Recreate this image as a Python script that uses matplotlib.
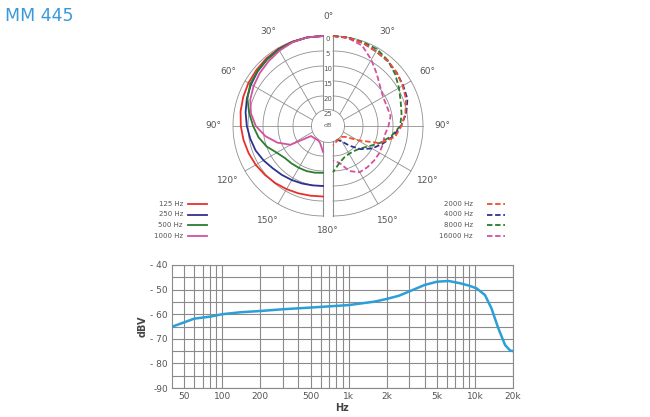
import numpy as np
import matplotlib
matplotlib.use("Agg")
import matplotlib.pyplot as plt
from matplotlib.lines import Line2D

# polar data: attenuation in dB, every 10 degrees from 0 to 180
angles = np.arange(0, 181, 10)
att_125 = [0, 0, 0.1, 0.3, 0.6, 1.0, 1.3, 1.7, 2.1, 2.6, 3.1, 3.6, 4.1, 4.7, 5.2, 5.7, 6.1, 6.4, 6.5]
att_250 = [0, 0, 0.2, 0.5, 1.0, 1.6, 2.3, 3.0, 3.8, 4.6, 5.4, 6.1, 7.1, 8.1, 8.7, 9.2, 9.6, 9.9, 10.0]
att_500 = [0, 0, 0.2, 0.6, 1.0, 1.5, 2.0, 3.2, 5.0, 6.7, 8.2, 10.0, 12.2, 13.4, 13.7, 13.9, 14.0, 14.2, 14.4]
att_1000 = [0, 0, 0.3, 1.0, 1.8, 2.5, 3.3, 4.2, 5.6, 7.6, 10.5, 13.8, 17.5, 24.8, 25.0, 25.0, 25.0, 24.3, 21.4]
att_2000 = [0, 0.1, 0.6, 1.3, 1.6, 2.3, 3.2, 4.1, 5.5, 7.2, 9.0, 13.3, 20.5, 24.3, 25.3, 25.4, 25.2, 24.5, 23.5]
att_4000 = [0, 0.1, 0.6, 1.3, 1.7, 2.3, 3.0, 3.6, 5.2, 7.3, 9.8, 12.5, 15.0, 18.0, 21.4, 24.0, 25.0, 25.0, 24.7]
att_8000 = [0, 0.1, 0.3, 0.5, 1.5, 3.0, 4.6, 6.0, 6.8, 7.6, 10.3, 13.4, 16.4, 18.3, 19.1, 19.3, 18.9, 17.5, 14.6]
att_16000 = [0, 0.3, 1.5, 4.5, 7.3, 9.5, 10.7, 10.9, 10.5, 11.5, 12.5, 12.3, 12.1, 12.1, 12.1, 12.2, 14.0, 17.5, 18.5]

left_curves = [("125 Hz", att_125, "#e8302a"), ("250 Hz", att_250, "#2e3192"),
               ("500 Hz", att_500, "#2a7d2e"), ("1000 Hz", att_1000, "#d3519f")]
right_curves = [("2000 Hz", att_2000, "#f0502a"), ("4000 Hz", att_4000, "#2e3192"),
                ("8000 Hz", att_8000, "#2a7d2e"), ("16000 Hz", att_16000, "#d3519f")]

ring_db = [0, 5, 10, 15, 20, 25]
spoke_deg = [30, 60, 90, 120, 150]

# frequency response
freq = [40, 50, 60, 80, 100, 140, 200, 300, 500, 1000, 1600, 2000, 2500, 3200, 4000,
        5000, 6200, 7600, 9000, 10300, 12000, 13500, 15300, 17300, 19000, 20000]
dbv = [-65.1, -63.3, -61.8, -61.0, -60.0, -59.2, -58.7, -58.0, -57.3, -56.3, -54.9, -53.8,
       -52.5, -50.2, -48.1, -46.8, -46.5, -47.4, -48.4, -49.5, -52.2, -57.6, -65.7, -72.5,
       -74.8, -75.0]
xticks = [50, 100, 200, 500, 1000, 2000, 5000, 10000, 20000]
xtick_labels = ["50", "100", "200", "500", "1k", "2k", "5k", "10k", "20k"]
yticks = [-90, -80, -70, -60, -50, -40]
ytick_labels = ["-90", "- 80", "- 70", "- 60", "- 50", "- 40"]

W, H = 650, 417
fig = plt.figure(figsize=(W / 100, H / 100), dpi=100)

fig.text(5 / W, 1 - 16 / H, "MM 445", color="#3a9ad9", fontsize=12.5, va="center")

# ---- polar part, drawn in a plain axes (1 unit = 3 px) ----
axp = fig.add_axes([195 / W, 172 / H, 266 / W, 245 / H])
axp.set_xlim(-44.33, 44.33)
axp.set_ylim(-39.67, 42)
axp.axis("off")

R = 30.0
gap = 5 / 3.0
r_in = 5.5
gcol = "#8f8f8f"
tcol = "#555555"


def to_xy(ang, att, side):
    th = np.radians(np.asarray(ang, dtype=float))
    r = R - np.asarray(att, dtype=float)
    return side * (gap + r * np.sin(th)), r * np.cos(th)


th = np.linspace(0, 180, 200)
for side in (-1, 1):
    for db in ring_db[:-1]:
        x, y = to_xy(th, np.full_like(th, db), side)
        axp.plot(x, y, color=gcol, lw=0.6, zorder=1)
    for a in spoke_deg:
        s = np.sin(np.radians(a))
        r0 = -gap * s + np.sqrt(gap ** 2 * s ** 2 - gap ** 2 + r_in ** 2)
        x, y = to_xy([a, a], [R - r0, 0], side)
        axp.plot(x, y, color=gcol, lw=0.6, zorder=1)
    yv = np.sqrt(r_in ** 2 - gap ** 2)
    axp.plot([side * gap, side * gap], [yv, R], color=gcol, lw=0.8, zorder=1)
    axp.plot([side * gap, side * gap], [-yv, -R], color=gcol, lw=0.8, zorder=1)
    for a in spoke_deg:
        x, y = to_xy(a, R - 36.5, side)
        axp.text(x, y, "%d°" % a, fontsize=6.5, color=tcol, ha="center", va="center")

tt = np.linspace(0, 2 * np.pi, 200)
axp.plot(r_in * np.cos(tt), r_in * np.sin(tt), color=gcol, lw=0.6, zorder=1)
axp.text(0, 0, "dB", fontsize=4.5, color=tcol, ha="center", va="center")
for db in ring_db:
    axp.text(0, R - db - 1.1, str(db), fontsize=5, color=tcol, ha="center", va="center")
axp.text(0, 36.5, "0°", fontsize=6.5, color=tcol, ha="center", va="center")
axp.text(0, -35, "180°", fontsize=6.5, color=tcol, ha="center", va="center")

for name, att, col in left_curves:
    x, y = to_xy(angles, att, -1)
    axp.plot(x, y, color=col, lw=1.3, zorder=3)
# draw 2000 Hz last so it sits on top, as in the original
for name, att, col in right_curves[::-1]:
    x, y = to_xy(angles, att, 1)
    axp.plot(x, y, color=col, lw=1.3, ls=(0, (3, 1.5)), zorder=3)

# legends
leg_y = [204, 214.5, 225, 235.5]
for (name, att, col), yy in zip(left_curves, leg_y):
    fig.text(183 / W, 1 - yy / H, name, fontsize=5, color=tcol, ha="right", va="center")
    fig.add_artist(Line2D([188 / W, 207 / W], [1 - yy / H] * 2, color=col, lw=1.3,
                          transform=fig.transFigure))
for (name, att, col), yy in zip(right_curves, leg_y):
    fig.text(473 / W, 1 - yy / H, name, fontsize=5, color=tcol, ha="right", va="center")
    fig.add_artist(Line2D([487 / W, 505 / W], [1 - yy / H] * 2, color=col, lw=1.3,
                          ls=(0, (3, 1.5)), transform=fig.transFigure))

# ---- frequency response ----
ax = fig.add_axes([172 / W, 29 / H, 341 / W, 123 / H])
ax.set_xscale("log")
ax.set_xlim(40, 20000)
ax.set_ylim(-90, -40)
minor_x = [60, 70, 80, 90, 300, 400, 600, 700, 800, 900, 3000, 4000, 6000, 7000, 8000, 9000]
ax.set_xticks(xticks)
ax.set_xticklabels(xtick_labels)
ax.set_xticks(minor_x, minor=True)
ax.set_xticklabels([], minor=True)
ax.set_yticks(yticks)
ax.set_yticklabels(ytick_labels)
ax.set_yticks([-85, -75, -65, -55, -45], minor=True)
ax.grid(True, which="both", color="#8a8a8a", lw=0.8)
ax.tick_params(which="both", length=0, labelsize=6.5, labelcolor=tcol, pad=3)
for sp in ax.spines.values():
    sp.set_color("#8a8a8a")
    sp.set_linewidth(0.8)
ax.plot(freq, dbv, color="#2a9fd8", lw=1.8, zorder=3)
ax.set_xlabel("Hz", fontsize=7, fontweight="bold", color="#444444", labelpad=1)
ax.set_ylabel("dBV", fontsize=7, fontweight="bold", color="#444444", labelpad=2)

fig.savefig("out.png", dpi=100)
